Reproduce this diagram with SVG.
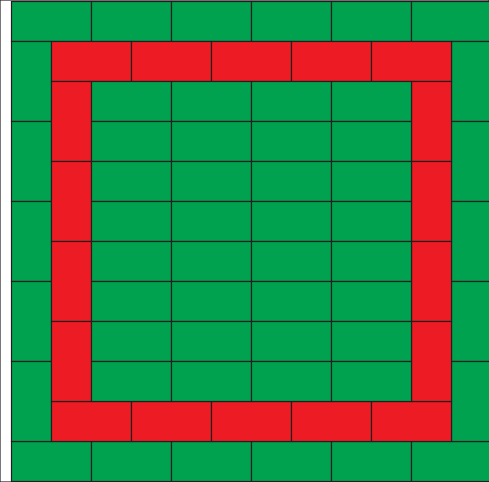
<svg xmlns="http://www.w3.org/2000/svg" width="489" height="482" viewBox="0 0 489 482">
<style>
rect{stroke:#231f20;stroke-width:1.2}
.g{fill:#00a14f}
.r{fill:#ed1c24}
</style>
<rect x="0" y="0" width="489" height="482" fill="#fff" stroke="none"/>
<g id="outer" class="g">
<rect class="g" x="11.5" y="1.5" width="80" height="40"/>
<rect class="g" x="91.5" y="1.5" width="80" height="40"/>
<rect class="g" x="171.5" y="1.5" width="80" height="40"/>
<rect class="g" x="251.5" y="1.5" width="80" height="40"/>
<rect class="g" x="331.5" y="1.5" width="80" height="40"/>
<rect class="g" x="411.5" y="1.5" width="80" height="40"/>
<rect class="g" x="11.5" y="441.5" width="80" height="40"/>
<rect class="g" x="91.5" y="441.5" width="80" height="40"/>
<rect class="g" x="171.5" y="441.5" width="80" height="40"/>
<rect class="g" x="251.5" y="441.5" width="80" height="40"/>
<rect class="g" x="331.5" y="441.5" width="80" height="40"/>
<rect class="g" x="411.5" y="441.5" width="80" height="40"/>
<rect class="g" x="11.5" y="41.5" width="40" height="80"/>
<rect class="g" x="11.5" y="121.5" width="40" height="80"/>
<rect class="g" x="11.5" y="201.5" width="40" height="80"/>
<rect class="g" x="11.5" y="281.5" width="40" height="80"/>
<rect class="g" x="11.5" y="361.5" width="40" height="80"/>
<rect class="g" x="451.5" y="41.5" width="40" height="80"/>
<rect class="g" x="451.5" y="121.5" width="40" height="80"/>
<rect class="g" x="451.5" y="201.5" width="40" height="80"/>
<rect class="g" x="451.5" y="281.5" width="40" height="80"/>
<rect class="g" x="451.5" y="361.5" width="40" height="80"/>
</g>
<g id="ring">
<rect class="r" x="51.5" y="41.5" width="80" height="40"/>
<rect class="r" x="131.5" y="41.5" width="80" height="40"/>
<rect class="r" x="211.5" y="41.5" width="80" height="40"/>
<rect class="r" x="291.5" y="41.5" width="80" height="40"/>
<rect class="r" x="371.5" y="41.5" width="80" height="40"/>
<rect class="r" x="51.5" y="401.5" width="80" height="40"/>
<rect class="r" x="131.5" y="401.5" width="80" height="40"/>
<rect class="r" x="211.5" y="401.5" width="80" height="40"/>
<rect class="r" x="291.5" y="401.5" width="80" height="40"/>
<rect class="r" x="371.5" y="401.5" width="80" height="40"/>
<rect class="r" x="51.5" y="81.5" width="40" height="80"/>
<rect class="r" x="51.5" y="161.5" width="40" height="80"/>
<rect class="r" x="51.5" y="241.5" width="40" height="80"/>
<rect class="r" x="51.5" y="321.5" width="40" height="80"/>
<rect class="r" x="411.5" y="81.5" width="40" height="80"/>
<rect class="r" x="411.5" y="161.5" width="40" height="80"/>
<rect class="r" x="411.5" y="241.5" width="40" height="80"/>
<rect class="r" x="411.5" y="321.5" width="40" height="80"/>
</g>
<g id="inner">
<rect class="g" x="91.5" y="81.5" width="80" height="40"/><rect class="g" x="171.5" y="81.5" width="80" height="40"/><rect class="g" x="251.5" y="81.5" width="80" height="40"/><rect class="g" x="331.5" y="81.5" width="80" height="40"/>
<rect class="g" x="91.5" y="121.5" width="80" height="40"/><rect class="g" x="171.5" y="121.5" width="80" height="40"/><rect class="g" x="251.5" y="121.5" width="80" height="40"/><rect class="g" x="331.5" y="121.5" width="80" height="40"/>
<rect class="g" x="91.5" y="161.5" width="80" height="40"/><rect class="g" x="171.5" y="161.5" width="80" height="40"/><rect class="g" x="251.5" y="161.5" width="80" height="40"/><rect class="g" x="331.5" y="161.5" width="80" height="40"/>
<rect class="g" x="91.5" y="201.5" width="80" height="40"/><rect class="g" x="171.5" y="201.5" width="80" height="40"/><rect class="g" x="251.5" y="201.5" width="80" height="40"/><rect class="g" x="331.5" y="201.5" width="80" height="40"/>
<rect class="g" x="91.5" y="241.5" width="80" height="40"/><rect class="g" x="171.5" y="241.5" width="80" height="40"/><rect class="g" x="251.5" y="241.5" width="80" height="40"/><rect class="g" x="331.5" y="241.5" width="80" height="40"/>
<rect class="g" x="91.5" y="281.5" width="80" height="40"/><rect class="g" x="171.5" y="281.5" width="80" height="40"/><rect class="g" x="251.5" y="281.5" width="80" height="40"/><rect class="g" x="331.5" y="281.5" width="80" height="40"/>
<rect class="g" x="91.5" y="321.5" width="80" height="40"/><rect class="g" x="171.5" y="321.5" width="80" height="40"/><rect class="g" x="251.5" y="321.5" width="80" height="40"/><rect class="g" x="331.5" y="321.5" width="80" height="40"/>
<rect class="g" x="91.5" y="361.5" width="80" height="40"/><rect class="g" x="171.5" y="361.5" width="80" height="40"/><rect class="g" x="251.5" y="361.5" width="80" height="40"/><rect class="g" x="331.5" y="361.5" width="80" height="40"/>
</g>
</svg>
